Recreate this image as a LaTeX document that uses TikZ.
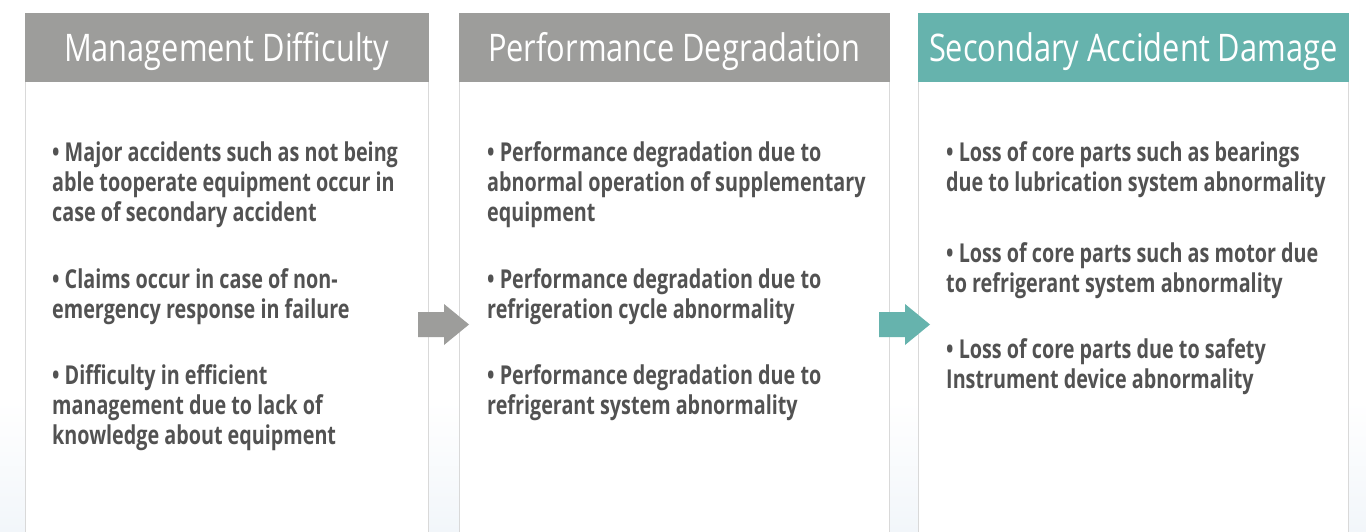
\documentclass[tikz,border=0pt]{standalone}
\usepackage{fontspec}
\setmainfont{Open Sans}
\newfontfamily\hdrfont[FakeStretch=0.81]{Open Sans}
\newfontfamily\bodyfont[FakeStretch=0.76]{Open Sans}
\definecolor{hdrgray}{HTML}{9D9D9B}
\definecolor{hdrteal}{HTML}{66B3AD}
\definecolor{bodytxt}{HTML}{525252}
\definecolor{panelline}{HTML}{D9D9D9}
\definecolor{bgtint}{HTML}{F2F6FA}
\begin{document}
\begin{tikzpicture}[x=1pt,y=-1pt,
  panelbox/.style={draw=panelline, line width=1pt, fill=white, anchor=north west, minimum width=#1, minimum height=530pt, inner sep=0pt},
  hdrbox/.style={fill=#1, text=white, anchor=north west, minimum height=69pt, inner sep=0pt, text height=32pt, text depth=4pt, font=\hdrfont\fontsize{38}{44}\selectfont},
  bullet/.style={anchor=base west, align=left, inner sep=0pt, text=bodytxt, font=\bodyfont\bfseries\fontsize{26}{30}\selectfont},
  arrowgray/.style={fill=hdrgray},
  arrowteal/.style={fill=hdrteal}
]
\useasboundingbox (0,0) rectangle (1366,532);
\fill[white] (0,0) rectangle (1366,532);
\shade[top color=white, bottom color=bgtint] (0,400) rectangle (1366,532);

% panels
\node[panelbox=403pt] (p1) at (25,13) {};
\node[panelbox=430pt] (p2) at (459,13) {};
\node[panelbox=430pt] (p3) at (918,13) {};

% headers
\node[hdrbox=hdrgray, minimum width=404pt] (h1) at (24.5,12.5) {Management Difficulty};
\node[hdrbox=hdrgray, minimum width=431pt] (h2) at (458.5,12.5) {Performance Degradation};
\node[hdrbox=hdrteal, minimum width=431pt] (h3) at (917.5,12.5) {Secondary Accident Damage};

% panel 1 (anchor = baseline of last line)
\node[bullet] (a1) at (52,222) {• Major accidents such as not being\\able tooperate equipment occur in\\case of secondary accident};
\node[bullet] (a2) at (52,318) {• Claims occur in case of non-\\emergency response in failure};
\node[bullet] (a3) at (52,444) {• Difficulty in efficient\\management due to lack of\\knowledge about equipment};

% panel 2
\node[bullet] (b1) at (487,222) {• Performance degradation due to\\abnormal operation of supplementary\\equipment};
\node[bullet] (b2) at (487,318) {• Performance degradation due to\\refrigeration cycle abnormality};
\node[bullet] (b3) at (487,414) {• Performance degradation due to\\refrigerant system abnormality};

% panel 3
\node[bullet] (c1) at (946,192) {• Loss of core parts such as bearings\\due to lubrication system abnormality};
\node[bullet] (c2) at (946,292) {• Loss of core parts such as motor due\\to refrigerant system abnormality};
\node[bullet] (c3) at (946,388) {• Loss of core parts due to safety\\Instrument device abnormality};

% arrows
\fill[arrowgray] (418,312) -- (444,312) -- (444,304) -- (469,324.5) -- (444,345) -- (444,337) -- (418,337) -- cycle;
\fill[arrowteal] (879,312) -- (905,312) -- (905,304) -- (930,324.5) -- (905,345) -- (905,337) -- (879,337) -- cycle;
\end{tikzpicture}
\end{document}
